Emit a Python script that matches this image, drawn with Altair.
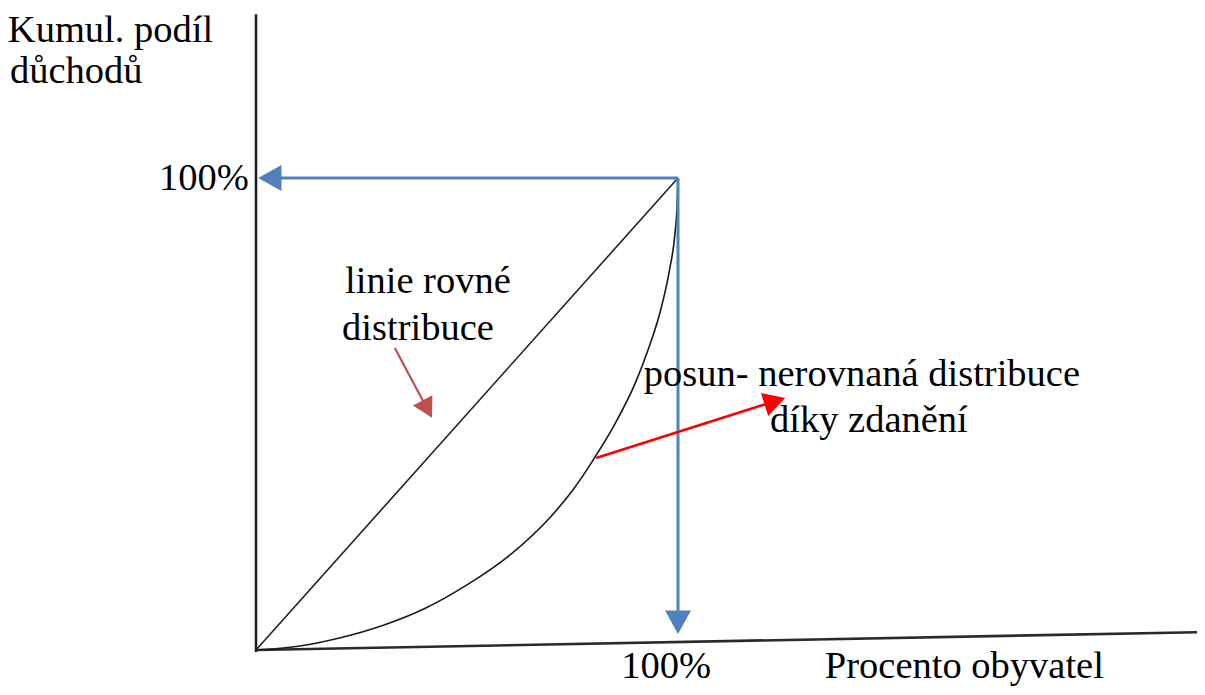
import math
import altair as alt
import pandas as pd

# ---------------- data (diagram units: percent) ----------------
lorenz_x = [0, 10, 20, 30, 40, 50, 60, 70, 75, 80, 85, 90, 93, 96, 98, 99.3, 99.8, 100]
lorenz_y = [0, 0.8, 2.6, 5.2, 8.8, 13.8, 20.0, 28.4, 33.8, 40.4, 47.8, 56.8, 63.8, 72.4, 80.6, 88.4, 94.5, 100]

equal_x = [0, 100]
equal_y = [0, 100]

# axes lines (start x, start y, end x, end y)
yaxis_line = [0, -0.4, 0, 134.7]
xaxis_line = [0, 0, 225.0, 3.8]

# arrows: (x1, y1, tip x, tip y)
blue_h = [100, 100, 0.5, 100]
blue_v = [100, 100, 100, 3.4]
darkred_arrow = [32.9, 64.0, 41.7, 49.2]
red_arrow = [80.6, 40.7, 125.4, 53.4]

labels_left = ["Kumul. podíl", "důchodů", "Procento obyvatel", "linie rovné", "distribuce",
               "posun- nerovnaná distribuce", "díky zdanění"]
labels_left_x = [-58.8, -58.3, 134.8, 21.1, 20.4, 91.9, 121.8]
labels_left_y = [128.8, 120.2, -5.9, 75.6, 65.7, 55.9, 46.2]

label_y100 = "100%"
label_y100_pos = [-1.7, 97.5]
label_x100 = "100%"
label_x100_pos = [97.2, -5.9]

# ---------------- layout ----------------
W, H = 1189, 679
PX_X, PX_Y = 4.22, 4.72          # pixels per percent
ORIG_X, ORIG_Y = 248, 642        # origin inside plot area (px)
xdom = [-ORIG_X / PX_X, (W - ORIG_X) / PX_X]
ydom = [-(H - ORIG_Y) / PX_Y, ORIG_Y / PX_Y]

FONT = "Liberation Serif"
FS = 38.5

xs = alt.Scale(domain=xdom, nice=False, zero=False)
ys = alt.Scale(domain=ydom, nice=False, zero=False)


def X(f="x"):
    return alt.X(f"{f}:Q", scale=xs, axis=None)


def Y(f="y"):
    return alt.Y(f"{f}:Q", scale=ys, axis=None)


def segment(seg, color, width):
    df = pd.DataFrame({"x": [seg[0]], "y": [seg[1]], "x2": [seg[2]], "y2": [seg[3]]})
    return alt.Chart(df).mark_rule(color=color, strokeWidth=width).encode(
        x=X(), y=Y(), x2="x2:Q", y2="y2:Q")


HEAD_PATH = "M0,0L-1,1.8L1,1.8Z"


def arrow(seg, color, width, half_w):
    x1, y1, tx, ty = seg
    dxp = (tx - x1) * PX_X
    dyp = -(ty - y1) * PX_Y
    length = math.hypot(dxp, dyp)
    head_len = 1.8 * half_w
    k = max(0.0, (length - head_len * 0.7) / length)
    ex = x1 + (tx - x1) * k
    ey = y1 + (ty - y1) * k
    ang = math.degrees(math.atan2(dxp, -dyp)) % 360
    line = segment([x1, y1, ex, ey], color, width)
    hdf = pd.DataFrame({"x": [tx], "y": [ty], "a": [ang]})
    head = alt.Chart(hdf).mark_point(
        shape=HEAD_PATH, filled=True, color=color, opacity=1, strokeWidth=0,
        size=(2 * half_w) ** 2).encode(x=X(), y=Y(), angle=alt.Angle("a:Q", scale=None))
    return [line, head]


layers = []

# axes
layers.append(segment(yaxis_line, "#1e1e1e", 2.6))
layers.append(segment(xaxis_line, "#2a2a2a", 2.6))

# equal distribution line
eq_df = pd.DataFrame({"x": equal_x, "y": equal_y})
layers.append(alt.Chart(eq_df).mark_line(color="#222222", strokeWidth=1.6).encode(x=X(), y=Y()))

# Lorenz curve
lz_df = pd.DataFrame({"x": lorenz_x, "y": lorenz_y, "o": list(range(len(lorenz_x)))})
layers.append(alt.Chart(lz_df).mark_line(color="#1a1a1a", strokeWidth=1.6, interpolate="monotone").encode(
    x=X(), y=Y(), order="o:Q"))

# arrows
layers += arrow(blue_h, "#4F81BD", 3, 13)
layers += arrow(blue_v, "#4F81BD", 3, 13)
layers += arrow(darkred_arrow, "#C0504D", 2.2, 11)
layers += arrow(red_arrow, "#FF0000", 2.6, 12)

# texts
tl_df = pd.DataFrame({"x": labels_left_x, "y": labels_left_y, "t": labels_left})
layers.append(alt.Chart(tl_df).mark_text(font=FONT, fontSize=FS, align="left", baseline="alphabetic",
                                         color="#000000").encode(x=X(), y=Y(), text="t:N"))
ty_df = pd.DataFrame({"x": [label_y100_pos[0]], "y": [label_y100_pos[1]], "t": [label_y100]})
layers.append(alt.Chart(ty_df).mark_text(font=FONT, fontSize=FS, align="right", baseline="alphabetic",
                                         color="#000000").encode(x=X(), y=Y(), text="t:N"))
tx_df = pd.DataFrame({"x": [label_x100_pos[0]], "y": [label_x100_pos[1]], "t": [label_x100]})
layers.append(alt.Chart(tx_df).mark_text(font=FONT, fontSize=FS, align="center", baseline="alphabetic",
                                         color="#000000").encode(x=X(), y=Y(), text="t:N"))

chart = alt.layer(*layers).properties(
    width=W, height=H, padding=0, background="white",
    autosize=alt.AutoSizeParams(type="none"),
).configure_view(stroke=None)

chart.save("out.html", embed_options={"renderer": "svg", "actions": False})
